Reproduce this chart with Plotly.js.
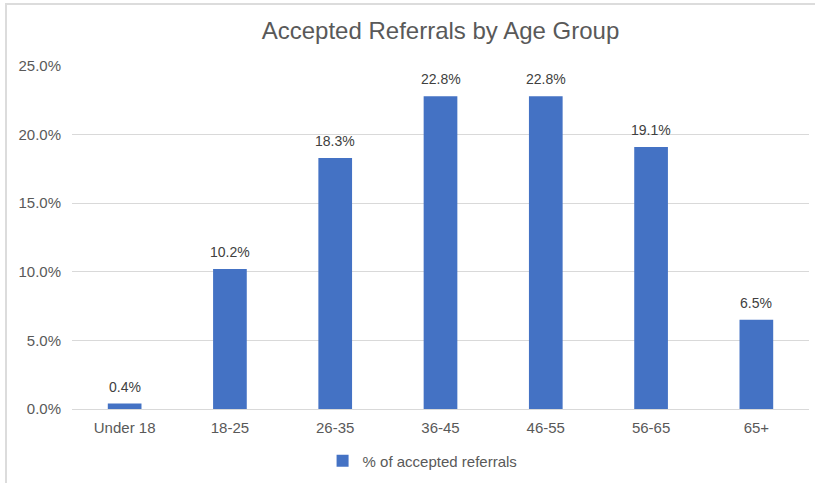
<!DOCTYPE html>
<html>
<head>
<meta charset="utf-8">
<script src="https://cdn.plot.ly/plotly-3.0.1.min.js"></script>
<style>
  html, body { margin: 0; padding: 0; background: #fff; }
  #wrap { position: relative; width: 815px; height: 483px; overflow: hidden; }
  #chart { width: 815px; height: 483px; }
  #frame { position: absolute; left: 5px; top: 3px; width: 830px; height: 500px;
           border-top: 2px solid #dcdcdc; border-left: 2px solid #dcdcdc; pointer-events: none; }
</style>
</head>
<body>
<div id="wrap">
  <div id="chart"></div>
  <div id="frame"></div>
</div>
<script>
const categories = ["Under 18", "18-25", "26-35", "36-45", "46-55", "56-65", "65+"];
const percentAccepted = [0.4, 10.2, 18.3, 22.8, 22.8, 19.1, 6.5];
const seriesName = "% of accepted referrals";
const yTicks = [0, 5, 10, 15, 20, 25];

const FONT = "Liberation Sans, Arial, sans-serif";

const trace = {
  type: "bar",
  x: categories,
  y: percentAccepted,
  name: seriesName,
  marker: { color: "#4472C4" },
  hoverinfo: "none"
};

const labels = categories.map((c, i) => ({
  x: c,
  y: percentAccepted[i],
  xref: "x",
  yref: "y",
  text: percentAccepted[i].toFixed(1) + "%",
  showarrow: false,
  yanchor: "bottom",
  yshift: 7,
  font: { family: FONT, size: 14, color: "#404040" }
}));

const layout = {
  width: 815,
  height: 483,
  margin: { l: 72, r: 6, t: 66, b: 74 },
  paper_bgcolor: "#ffffff",
  plot_bgcolor: "#ffffff",
  font: { family: FONT, color: "#595959", size: 15 },
  title: {
    text: "Accepted Referrals by Age Group",
    font: { family: FONT, size: 24, color: "#595959" },
    x: 0.5, xref: "paper", xanchor: "center",
    y: 1 - 31 / 483, yref: "container", yanchor: "middle"
  },
  bargap: 0.68,
  xaxis: {
    type: "category",
    showgrid: false,
    showline: true,
    linecolor: "#d9d9d9",
    linewidth: 1,
    ticks: "",
    ticklabelstandoff: 5,
    tickfont: { size: 15, color: "#595959" },
    fixedrange: true
  },
  yaxis: {
    range: [0, 25],
    tickvals: yTicks,
    ticktext: yTicks.map(v => v.toFixed(1) + "%"),
    showgrid: true,
    gridcolor: "#d9d9d9",
    gridwidth: 1,
    zeroline: false,
    showline: false,
    ticks: "",
    ticklabelstandoff: 10,
    tickfont: { size: 15, color: "#595959" },
    fixedrange: true
  },
  annotations: labels,
  showlegend: true,
  legend: {
    orientation: "h",
    x: 0.34, xanchor: "left",
    y: 22 / 483, yref: "container", yanchor: "middle",
    font: { size: 15, color: "#595959" },
    itemwidth: 30,
    bgcolor: "rgba(0,0,0,0)"
  }
};

Plotly.newPlot("chart", [trace], layout, { displayModeBar: false, staticPlot: true });
</script>
</body>
</html>
